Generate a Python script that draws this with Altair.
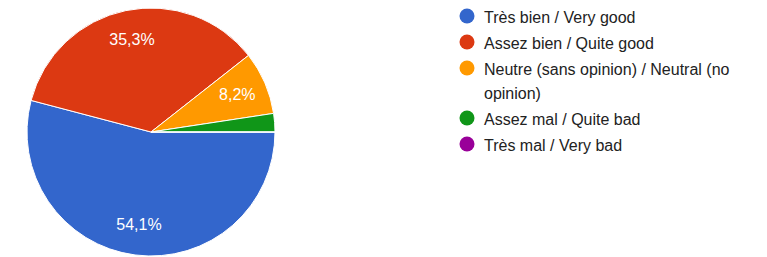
import math
import altair as alt
import pandas as pd

categories = [
    "Très bien / Very good",
    "Assez bien / Quite good",
    "Neutre (sans opinion) / Neutral (no opinion)",
    "Assez mal / Quite bad",
    "Très mal / Very bad",
]
percentages = [54.1, 35.3, 8.2, 2.4, 0.0]
colors = ["#3366cc", "#dc3912", "#ff9900", "#109618", "#990099"]

df = pd.DataFrame({"cat": categories, "pct": percentages, "order": list(range(len(categories)))})
df["label"] = [(f"{v:.1f}".replace(".", ",") + "%") if v >= 5 else "" for v in percentages]

W, H = 751, 249
CX, CY, R = 143, 124, 124
FONT = "Arial, Liberation Sans, sans-serif"

theta = alt.Theta("pct:Q", stack=True,
                  scale=alt.Scale(range=[math.pi / 2, math.pi / 2 + 2 * math.pi]))
order = alt.Order("order:Q")

label_expr = ("datum.label == 'Neutre (sans opinion) / Neutral (no opinion)' ? "
              "['Neutre (sans opinion) / Neutral (no', 'opinion)'] : datum.label")

arcs = alt.Chart(df).mark_arc(outerRadius=R, stroke="white", strokeWidth=1).encode(
    theta=theta,
    order=order,
    x=alt.value(CX),
    y=alt.value(CY),
    color=alt.Color(
        "cat:N",
        scale=alt.Scale(domain=categories, range=colors),
        legend=alt.Legend(
            orient="none", legendX=451, legendY=0, title=None,
            symbolType="circle", symbolSize=225, symbolStrokeWidth=0,
            labelFont=FONT, labelFontSize=16, labelColor="#222222",
            labelOffset=9, rowPadding=8, padding=0, labelLimit=400,
            labelBaseline="top", labelExpr=label_expr,
        ),
    ),
)

labels = alt.Chart(df).mark_text(
    radius=94, color="white", fontSize=16, font=FONT, align="center", baseline="middle"
).encode(
    theta=theta,
    order=order,
    x=alt.value(CX),
    y=alt.value(CY),
    text="label:N",
)

chart = alt.layer(arcs, labels).properties(
    width=W, height=H, autosize=alt.AutoSizeParams(type="none"), padding=0
).configure(
    view=alt.ViewConfig(stroke=None),
    style={"guide-label": {"lineHeight": 24, "dy": -6}},
)

chart.save("out.html", embed_options={"renderer": "svg", "actions": False})
